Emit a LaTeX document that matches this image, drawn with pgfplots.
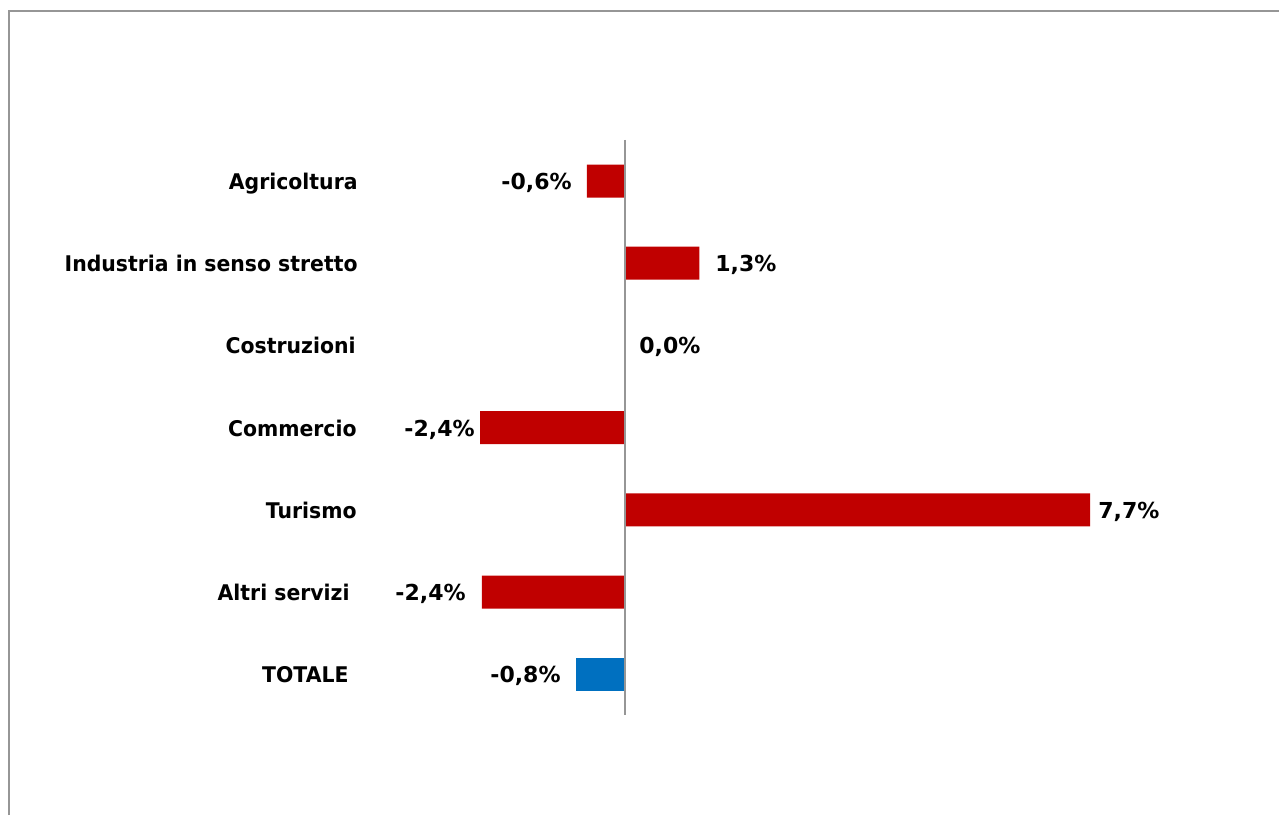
\documentclass[border=0pt]{standalone}
\usepackage{pgfplots}
\pgfplotsset{compat=1.18}
\usepackage{fontspec}
\setmainfont{DejaVu Sans}[BoldFont={DejaVu Sans Bold}, BoldFeatures={FakeStretch=0.945}]
\newfontfamily\valfont{DejaVu Sans Bold}
\definecolor{barred}{RGB}{192,0,0}
\definecolor{barblue}{RGB}{0,112,192}
\definecolor{framegray}{RGB}{150,150,150}
\tikzset{lbl/.style={font=\fontsize{10.8}{13}\selectfont\bfseries, text=black, inner sep=0pt, yshift=-4.25pt},
         val/.style={font=\fontsize{11}{13}\selectfont\valfont, text=black, inner sep=0pt, yshift=-4.25pt}}
\begin{document}
\begin{tikzpicture}
\begin{axis}[
  scale only axis,
  width=639.5pt, height=407.5pt,
  xmin=-10.348, xmax=10.828,
  ymin=-2.202, ymax=7.713,
  y dir=reverse,
  axis lines=none,
  xtick=\empty, ytick=\empty,
  clip=false,
  xbar, bar width=16.5pt, bar shift=0pt,
]
\addplot[fill=barred, draw=none] coordinates {(-0.63,0) (1.23,1) (0.0,2) (-2.4,3) (7.7,4) (-2.37,5)};
\addplot[fill=barblue, draw=none] coordinates {(-0.81,6)};
% axis line and frame
\draw[framegray, line width=1pt] (axis cs:0,-0.5) -- (axis cs:0,6.5);
\draw[framegray, line width=1pt] (axis cs:-10.199,7.713) -- (axis cs:-10.199,-2.068) -- (axis cs:10.828,-2.068);
% category labels
\node[lbl, anchor=base east] at (axis cs:-4.421,0) {Agricoltura};
\node[lbl, anchor=base east] at (axis cs:-4.421,1) {Industria in senso stretto};
\node[lbl, anchor=base east] at (axis cs:-4.454,2) {Costruzioni};
\node[lbl, anchor=base east] at (axis cs:-4.437,3) {Commercio};
\node[lbl, anchor=base east] at (axis cs:-4.437,4) {Turismo};
\node[lbl, anchor=base east] at (axis cs:-4.553,5) {Altri servizi};
\node[lbl, anchor=base east] at (axis cs:-4.570,6) {TOTALE};
% value labels
\node[val, anchor=base east] at (axis cs:-0.877,0) {-0,6\%};
\node[val, anchor=base west] at (axis cs:1.49,1) {1,3\%};
\node[val, anchor=base west] at (axis cs:0.232,2) {0,0\%};
\node[val, anchor=base east] at (axis cs:-2.483,3) {-2,4\%};
\node[val, anchor=base west] at (axis cs:7.83,4) {7,7\%};
\node[val, anchor=base east] at (axis cs:-2.632,5) {-2,4\%};
\node[val, anchor=base east] at (axis cs:-1.06,6) {-0,8\%};
\end{axis}
\pgfresetboundingbox
\path (current axis.south west) rectangle (current axis.north east);
\end{tikzpicture}
\end{document}
